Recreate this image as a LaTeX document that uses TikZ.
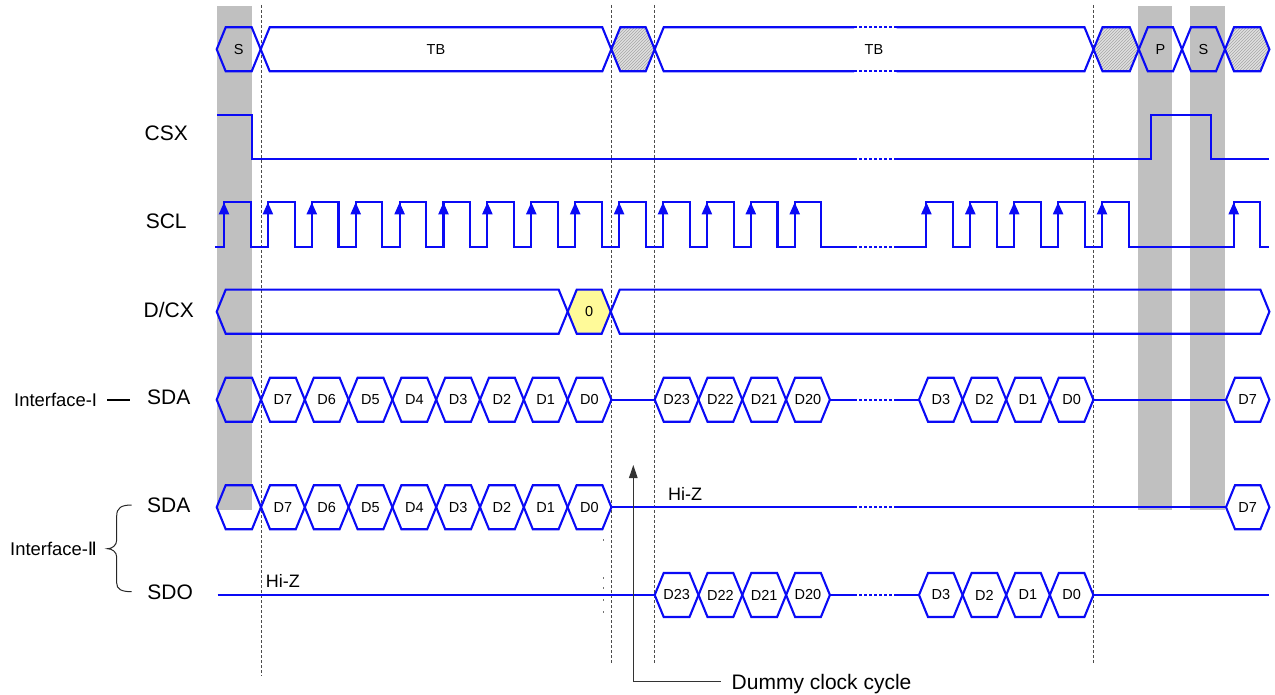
\documentclass[tikz,border=0pt]{standalone}
\usepackage{fontspec}
\setmainfont{Liberation Sans}
\newfontfamily\dejavu{DejaVu Sans}
\usetikzlibrary{arrows.meta,patterns}
\definecolor{sigblue}{RGB}{10,10,245}
\definecolor{barGray}{RGB}{192,192,192}
\newcounter{hexc}
\tikzset{
  sig/.style={draw=sigblue, line width=2.1pt, line join=miter},
  sigdot/.style={draw=sigblue, line width=2.1pt, dash pattern=on 2.5pt off 2.5pt},
  vguide/.style={draw=black!70, line width=0.8pt, dash pattern=on 3pt off 2pt},
  graybar/.style={fill=barGray, draw=none},
  hatched/.style={preaction={fill=black!12}, pattern=north east lines, pattern color=black!35},
  yel/.style={fill=yellow!40},
  hexlabel/.style={font=\fontsize{14.5}{16}\selectfont, inner sep=0pt},
  rowlabel/.style={font=\fontsize{21}{24}\selectfont, inner sep=0pt, anchor=base},
  iflabel/.style={font=\fontsize{18.4}{21}\selectfont, inner sep=0pt, anchor=base west},
  hizlabel/.style={font=\fontsize{18}{21}\selectfont, inner sep=0pt, anchor=base west},
  notelabel/.style={font=\fontsize{21}{24}\selectfont, inner sep=0pt, anchor=base west},
  darkline/.style={draw=black!80, line width=1.2pt},
  sclarrow/.style={sig, -{Triangle[width=10pt,length=12pt]}},
  dummyarrow/.style={darkline, -{Triangle[width=8.5pt,length=13pt]}},
  stray/.style={fill=black!55, draw=none}
}
% #1 options, #2 left x, #3 right x, #4 centre y, #5 label
\newcommand\hexagon[5][]{%
  \draw[sig,#1] (#2,#4) -- (#2+9,#4-22) -- (#3-9,#4-22) -- (#3,#4) -- (#3-9,#4+22) -- (#2+9,#4+22) -- cycle;
  \stepcounter{hexc}%
  \node[hexlabel] (hx\arabic{hexc}) at ({(#2+#3)/2},#4) {#5};
}
\begin{document}
\begin{tikzpicture}[x=1pt,y=-1pt]
\useasboundingbox (0,0) rectangle (1275,695);

% gray bars
\fill[graybar] (217,6) rectangle (252,510);
\fill[graybar] (1137.5,6) rectangle (1172.4,510);
\fill[graybar] (1189.7,6) rectangle (1224.6,510);

% dashed guides
\draw[vguide] (261,5) -- (261,676);
\draw[vguide] (611.3,5) -- (611.3,663);
\draw[vguide] (654.7,5) -- (654.7,663);
\draw[vguide] (1093.5,5) -- (1093.5,663);

% stray dots
\foreach \yy in {540,578,588,600,612} \fill[stray] (602.6,\yy-0.7) rectangle (604,\yy+0.7);

% ---------- top bus ----------
\hexagon{216.7}{260.7}{49.3}{S}
\hexagon{260.7}{611.3}{49.3}{TB}
\hexagon[hatched]{611.3}{654.7}{49.3}{}
\draw[sig] (854,27.3) -- (663.7,27.3) -- (654.7,49.3) -- (663.7,71.3) -- (854,71.3);
\draw[sigdot] (854,27.3) -- (896.5,27.3);
\draw[sigdot] (854,71.3) -- (896.5,71.3);
\draw[sig] (896.5,27.3) -- (1084.5,27.3) -- (1093.5,49.3) -- (1084.5,71.3) -- (896.5,71.3);
\node[hexlabel] (tb2) at (874,49.3) {TB};
\hexagon[hatched]{1093.5}{1138.8}{49.3}{}
\hexagon{1138.8}{1182}{49.3}{P}
\hexagon{1182}{1225}{49.3}{S}
\hexagon[hatched]{1225}{1269.4}{49.3}{}

% ---------- CSX ----------
\draw[sig] (217,115) -- (251.7,115) -- (251.7,159) -- (854,159);
\draw[sigdot] (854,159) -- (896.5,159);
\draw[sig] (896.5,159) -- (1150.9,159) -- (1150.9,115) -- (1211.2,115) -- (1211.2,159) -- (1269.4,159);

% ---------- SCL ----------
\draw[sig] (215,246.7) foreach \k in {0,...,13} {
   -- ({224+43.9*\k},246.7) -- ({224+43.9*\k},202.3) -- ({250.7+43.9*\k},202.3) -- ({250.7+43.9*\k},246.7)
 } -- (854,246.7);
\draw[sigdot] (854,246.7) -- (896.5,246.7);
\draw[sig] (896.5,246.7) foreach \k in {16,...,20} {
   -- ({224+43.9*\k},246.7) -- ({224+43.9*\k},202.3) -- ({250.7+43.9*\k},202.3) -- ({250.7+43.9*\k},246.7)
 } -- (1233.7,246.7) -- (1233.7,202.3) -- (1260.4,202.3) -- (1260.4,246.7) -- (1269.4,246.7);
\foreach \k in {0,...,13} \draw[sclarrow] ({224+43.9*\k},236) -- ({224+43.9*\k},202.3);
\foreach \k in {16,...,20} \draw[sclarrow] ({224+43.9*\k},236) -- ({224+43.9*\k},202.3);
\draw[sclarrow] (1233.7,236) -- (1233.7,202.3);

% ---------- D/CX ----------
\hexagon{216.7}{567.7}{311.7}{}
\hexagon[yel]{567.7}{610.7}{311.7}{0}
\hexagon{610.7}{1269.4}{311.7}{}

% ---------- SDA (Interface-I) ----------
\hexagon{216.7}{261}{399.7}{}
\foreach \lab [count=\i from 0, evaluate=\i as \xa using 261+43.8*\i, evaluate=\i as \xb using 261+43.8*(\i+1)] in {D7,D6,D5,D4,D3,D2,D1,D0}
  {\hexagon{\xa}{\xb}{399.7}{\lab}}
\draw[sig] (611.4,399.7) -- (654.7,399.7);
\foreach \lab [count=\i from 0, evaluate=\i as \xa using 654.7+43.8*\i, evaluate=\i as \xb using 654.7+43.8*(\i+1)] in {D23,D22,D21,D20}
  {\hexagon{\xa}{\xb}{399.7}{\lab}}
\draw[sig] (829.9,399.7) -- (854,399.7);
\draw[sigdot] (854,399.7) -- (896.5,399.7);
\draw[sig] (896.5,399.7) -- (919,399.7);
\foreach \lab [count=\i from 0, evaluate=\i as \xa using 919+43.6*\i, evaluate=\i as \xb using 919+43.6*(\i+1)] in {D3,D2,D1,D0}
  {\hexagon{\xa}{\xb}{399.7}{\lab}}
\draw[sig] (1093.4,399.7) -- (1226,399.7);
\hexagon{1226}{1269.4}{399.7}{D7}

% ---------- SDA (Interface-II) ----------
\hexagon{216.7}{261}{507.2}{}
\foreach \lab [count=\i from 0, evaluate=\i as \xa using 261+43.8*\i, evaluate=\i as \xb using 261+43.8*(\i+1)] in {D7,D6,D5,D4,D3,D2,D1,D0}
  {\hexagon{\xa}{\xb}{507.2}{\lab}}
\draw[sig] (611.4,507.2) -- (854,507.2);
\draw[sigdot] (854,507.2) -- (896.5,507.2);
\draw[sig] (896.5,507.2) -- (1226,507.2);
\hexagon{1226}{1269.4}{507.2}{D7}
\node[hizlabel] (hiz1) at (668,500) {Hi-Z};

% ---------- SDO ----------
\draw[sig] (217.5,595) -- (654.7,595);
\foreach \lab [count=\i from 0, evaluate=\i as \xa using 654.7+43.8*\i, evaluate=\i as \xb using 654.7+43.8*(\i+1)] in {D23,D22,D21,D20}
  {\hexagon{\xa}{\xb}{595}{\lab}}
\draw[sig] (829.9,595) -- (854,595);
\draw[sigdot] (854,595) -- (896.5,595);
\draw[sig] (896.5,595) -- (919,595);
\foreach \lab [count=\i from 0, evaluate=\i as \xa using 919+43.6*\i, evaluate=\i as \xb using 919+43.6*(\i+1)] in {D3,D2,D1,D0}
  {\hexagon{\xa}{\xb}{595}{\lab}}
\draw[sig] (1093.4,595) -- (1269.4,595);
\node[hizlabel] (hiz2) at (265.7,587.3) {Hi-Z};

% ---------- row labels ----------
\node[rowlabel] (lcsx) at (166.2,141) {CSX};
\node[rowlabel] (lscl) at (166.2,229) {SCL};
\node[rowlabel] (ldcx) at (168.7,317) {D/CX};
\node[rowlabel] (lsda1) at (168.7,404) {SDA};
\node[rowlabel] (lsda2) at (168.7,512.3) {SDA};
\node[rowlabel] (lsdo) at (170.2,599.3) {SDO};

\node[iflabel] (if1) at (14,406) {Interface-I};
\coordinate (dashA) at (107,400);
\coordinate (dashB) at (130,400);
\draw[black, line width=1.3pt] (dashA) -- (dashB);
\node[iflabel] (if2) at (10,555) {Interface-{\dejavu Ⅱ}};
\draw[black!85, line width=1pt] (131.7,505) .. controls (121,505) and (116.7,508) .. (116.7,516)
   -- (116.7,540) .. controls (116.7,545.5) and (112,548.7) .. (107.5,548.7)
   .. controls (112,548.7) and (116.7,552) .. (116.7,557)
   -- (116.7,583) .. controls (116.7,589) and (121,591.7) .. (131.7,591.7);

% ---------- dummy clock cycle ----------
\node[notelabel] (dummy) at (731.5,689) {Dummy clock cycle};
\coordinate (dumEnd) at (720.7,681.7);
\coordinate (dumCorner) at (633.3,681.7);
\coordinate (dumTip) at (633.3,465);
\draw[dummyarrow] (dumEnd) -- (dumCorner) -- (dumTip);
\end{tikzpicture}
\end{document}
